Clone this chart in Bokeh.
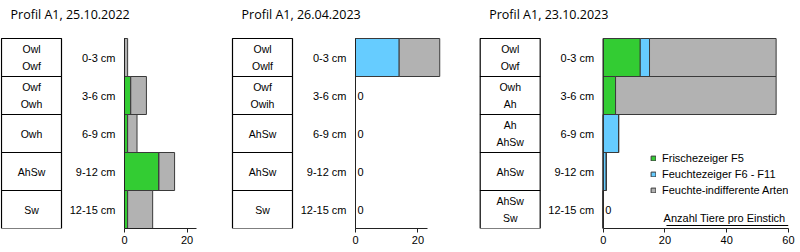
from bokeh.plotting import figure
from bokeh.layouts import row
from bokeh.models import ColumnDataSource, Range1d, FixedTicker
from bokeh.core.properties import value
from bokeh.embed import file_html
from bokeh.resources import INLINE

# ---------------- data ----------------
depths = ["0-3 cm", "3-6 cm", "6-9 cm", "9-12 cm", "12-15 cm"]
series_names = ["Frischezeiger F5", "Feuchtezeiger F6 - F11", "Feuchte-indifferente Arten"]

titles = ["Profil A1, 25.10.2022", "Profil A1, 26.04.2023", "Profil A1, 23.10.2023"]

horizons_1 = [["Owl", "Owf"], ["Owf", "Owh"], ["Owh"], ["AhSw"], ["Sw"]]
horizons_2 = [["Owl", "Owlf"], ["Owf", "Owih"], ["AhSw"], ["AhSw"], ["Sw"]]
horizons_3 = [["Owl", "Owf"], ["Owh", "Ah"], ["Ah", "AhSw"], ["AhSw"], ["AhSw", "Sw"]]

fresh_1 = [0, 2, 1, 11, 1]
moist_1 = [0, 0, 0, 0, 0]
indiff_1 = [1, 5, 3, 5, 8]

fresh_2 = [0, 0, 0, 0, 0]
moist_2 = [14, 0, 0, 0, 0]
indiff_2 = [13, 0, 0, 0, 0]

fresh_3 = [12, 4, 0, 0, 0]
moist_3 = [3, 0, 5, 1, 0]
indiff_3 = [41, 52, 0, 0, 0]

ticks_12 = [0, 20]
ticks_3 = [0, 20, 40, 60]
axis_label_3 = "Anzahl  Tiere pro Einstich"

colors = ["#33CC33", "#66CCFF", "#B2B2B2"]

ARIAL = "Liberation Sans"


def panel(title, horizons, fresh, moist, indiff, ticks, axis_end,
          width, zero_px, ppu, right_border, legend=False, note=None):
    frame_w = width - right_border
    n = len(depths)
    yc = [n - i - 0.5 for i in range(n)]
    p = figure(width=width, height=252, output_backend="svg", toolbar_location=None,
               x_range=Range1d(-zero_px / ppu, (frame_w - zero_px) / ppu),
               y_range=Range1d(0, n + 1), y_axis_location=None,
               min_border_left=0, min_border_right=right_border,
               min_border_top=0, min_border_bottom=24)
    p.outline_line_color = None
    p.xgrid.visible = False
    p.ygrid.visible = False
    px = lambda v: v / ppu

    src = ColumnDataSource(dict(y=yc, fresh=fresh, moist=moist, indiff=indiff))
    kw = dict(y="y", height=1, fill_color=colors, line_color="#3A3A3A",
              line_width=1, source=src)
    if legend:
        kw["legend_label"] = series_names
    p.hbar_stack(["fresh", "moist", "indiff"], **kw)

    # zero labels for empty rows
    zy = [yc[i] for i in range(n) if fresh[i] + moist[i] + indiff[i] == 0]
    if zy:
        p.text(x=[px(2)] * len(zy), y=zy, text=["0"] * len(zy),
               text_font=value(ARIAL), text_font_size="11px",
               text_baseline="middle", text_align="left", text_color="black")

    # vertical base line
    p.segment(x0=[0], y0=[0], x1=[0], y1=[n], line_color="#222222", line_width=1)

    # depth labels
    p.text(x=[px(-9)] * n, y=yc, text=depths, text_font=value(ARIAL),
           text_font_size="11px", text_align="right", text_baseline="middle",
           text_color="black")

    # horizon boxes
    p.rect(x=[px(-93)] * n, y=yc, width=px(60), height=1, fill_color="white",
           line_color="black", line_width=1.2)
    bx, by, bt = [], [], []
    for i, h in enumerate(horizons):
        if len(h) == 1:
            bx.append(px(-93)); by.append(yc[i]); bt.append(h[0])
        else:
            bx += [px(-93), px(-93)]
            by += [yc[i] + 0.23, yc[i] - 0.23]
            bt += h
    p.text(x=bx, y=by, text=bt, text_font=value(ARIAL), text_font_size="10.5px",
           text_align="center", text_baseline="middle", text_color="black")

    # title
    p.text(x=[px(-114)], y=[n + 1 - 14 / 38], text=[title],
           text_font=value("Open Sans"), text_font_size="12.5px",
           text_align="left", text_baseline="middle", text_color="black")

    ax = p.xaxis[0]
    ax.bounds = (0, axis_end)
    ax.ticker = FixedTicker(ticks=ticks)
    ax.minor_tick_line_color = None
    ax.major_tick_in = 0
    ax.major_tick_out = 4
    ax.major_label_standoff = 3
    ax.axis_line_color = "#222222"
    ax.major_tick_line_color = "#222222"
    ax.major_label_text_font = ARIAL
    ax.major_label_text_font_size = "11px"
    ax.major_label_text_color = "black"

    if note:
        p.text(x=[axis_end], y=[10.5 / 38], text=[note], text_font=value(ARIAL),
               text_font_size="11px", text_align="right",
               text_baseline="middle", text_color="black")
        p.segment(x0=[axis_end - px(122)], y0=[3 / 38], x1=[axis_end], y1=[3 / 38],
                  line_color="black", line_width=1)

    if legend:
        lg = p.legend[0]
        lg.location = (180, 32)
        lg.border_line_color = None
        lg.background_fill_alpha = 0
        lg.margin = 0
        lg.padding = 0
        lg.spacing = 4
        lg.glyph_width = 6
        lg.glyph_height = 6
        lg.label_height = 12
        lg.label_standoff = 6
        lg.label_text_font = ARIAL
        lg.label_text_font_size = "11px"
        lg.label_text_color = "black"
    return p


p1 = panel(titles[0], horizons_1, fresh_1, moist_1, indiff_1, ticks_12, 23,
           230, 124, 3.13, 0)
p2 = panel(titles[1], horizons_2, fresh_2, moist_2, indiff_2, ticks_12, 23,
           240, 125, 3.12, 0)
p3 = panel(titles[2], horizons_3, fresh_3, moist_3, indiff_3, ticks_3, 60,
           330, 132.7, 3.088, 12, legend=True, note=axis_label_3)

layout = row(p1, p2, p3)
open("out.html", "w").write(file_html(layout, INLINE))
